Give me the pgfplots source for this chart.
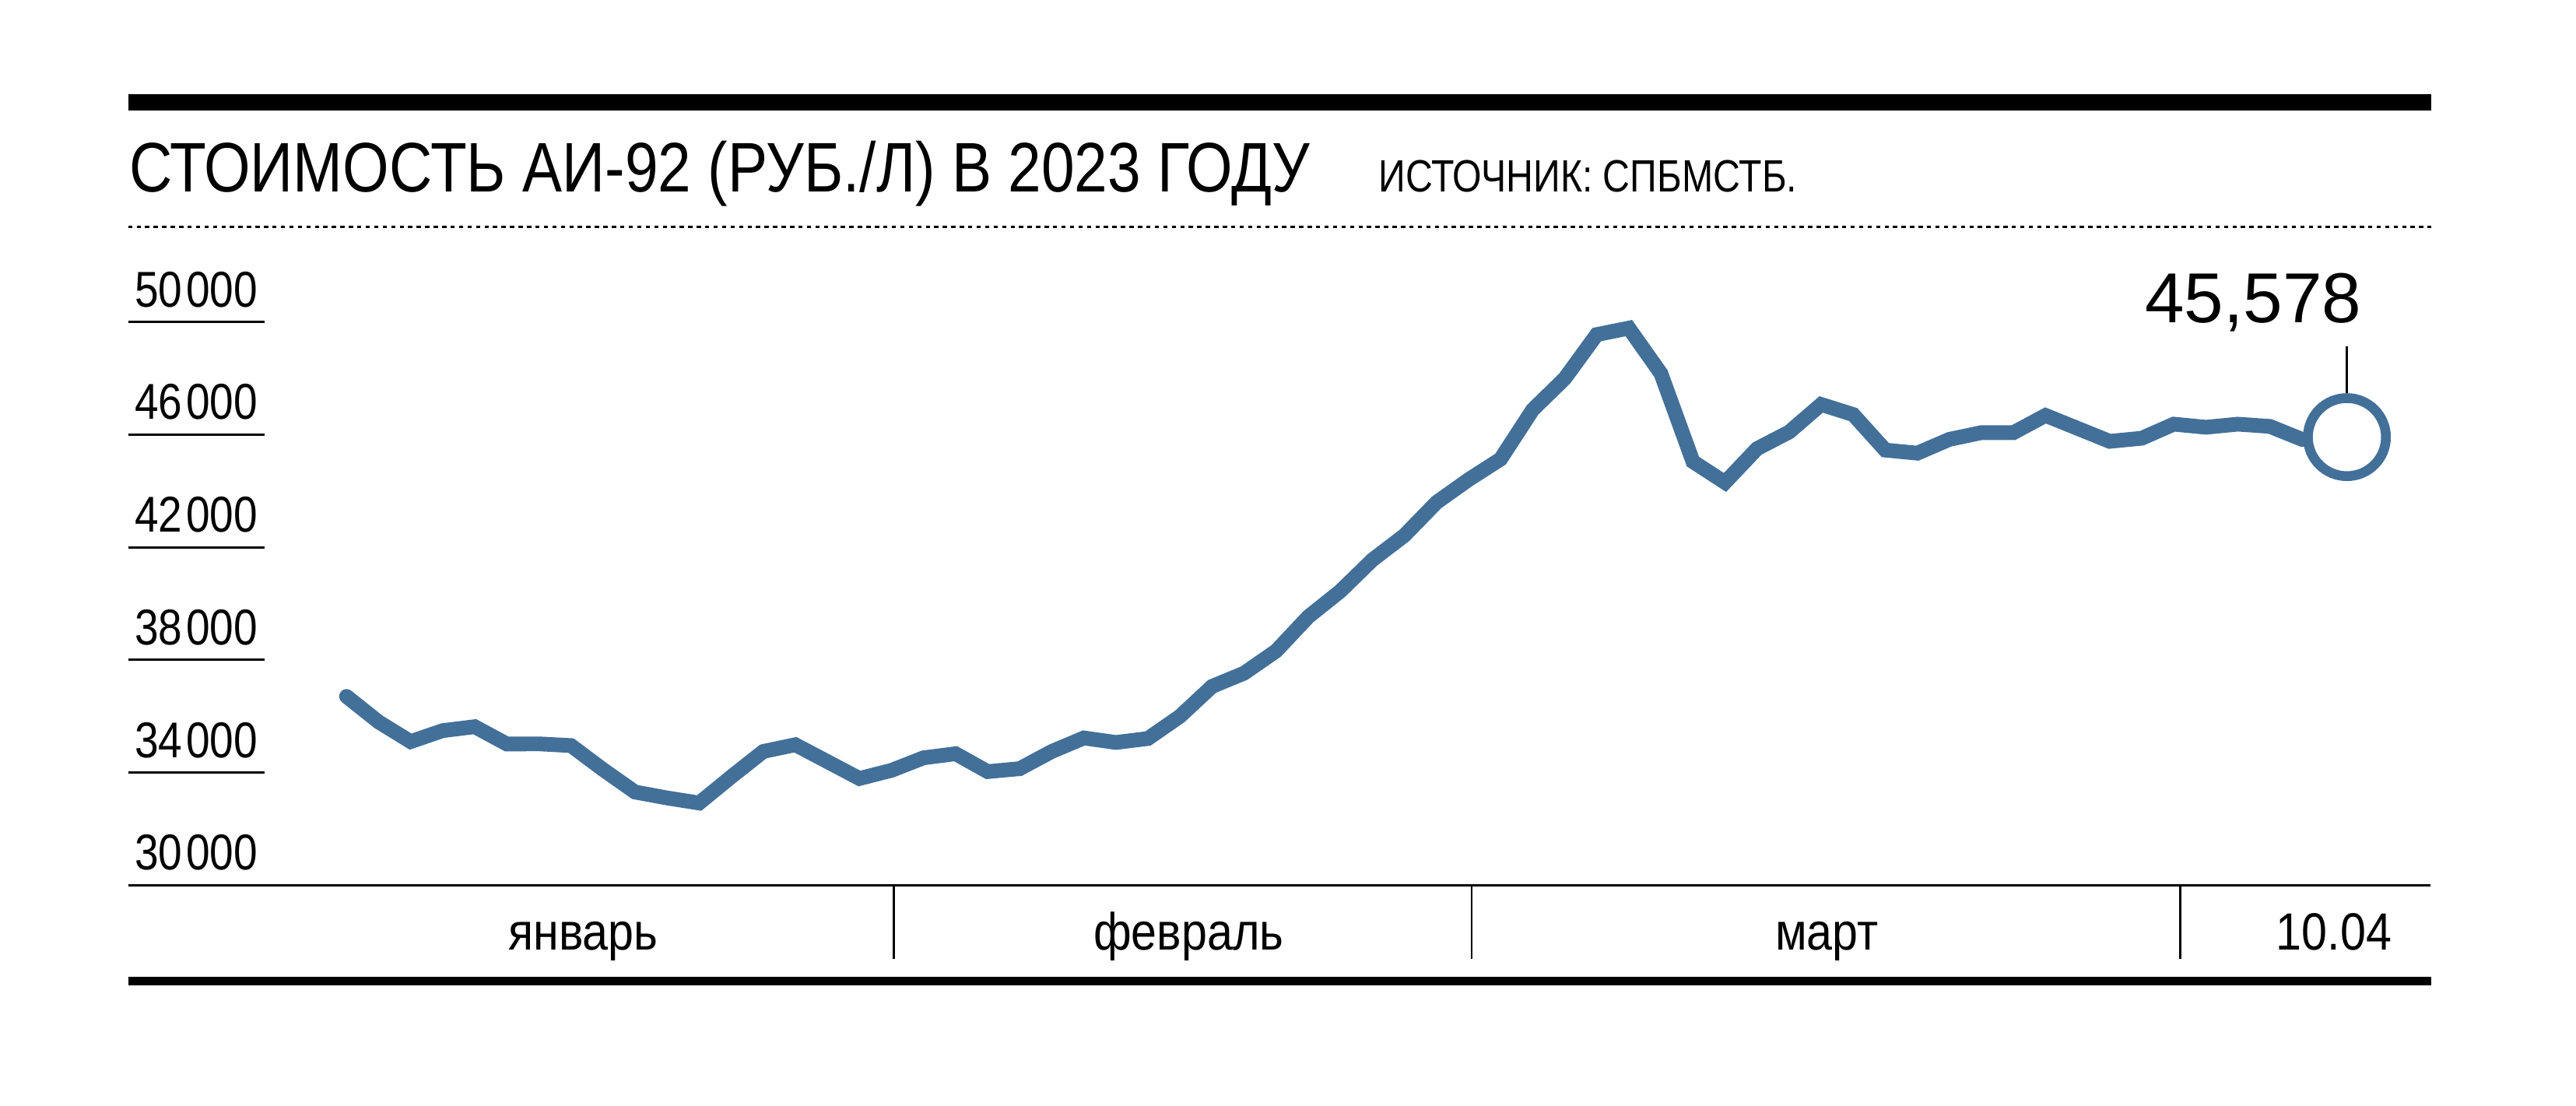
\documentclass[border=0pt]{standalone}
\usepackage{pgfplots}
\pgfplotsset{compat=1.18}
\usepackage{fontspec}
\setmainfont{Liberation Sans}
\newfontfamily\condfont[FakeStretch=0.85]{Liberation Sans}
\newfontfamily\srcfont[FakeStretch=0.83]{Liberation Sans}
\newfontfamily\monthfont[FakeStretch=0.88]{Liberation Sans}
\newfontfamily\ticknum[FakeStretch=0.85]{Liberation Sans}
\definecolor{lineblue}{RGB}{67,112,153}
\tikzset{ylab/.style={anchor=base west, inner sep=0pt, xshift=0.034cm, yshift=0.094cm,
    font=\ticknum\fontsize{8.9}{10}\selectfont}}
\begin{document}
\begin{tikzpicture}
\begin{axis}[
  at={(0.7959cm,-5.5000cm)}, anchor=south west,
  scale only axis, width=14.306cm, height=3.500cm,
  xmin=-6.8135, xmax=65.01, ymin=30000, ymax=50000,
  clip=false,
  axis line style={draw=none},
  xtick=\empty,
  ytick={30000,34000,38000,42000,46000,50000},
  yticklabels={},
  scaled y ticks=false,
  ytick pos=left,
  tick align=inside,
  major tick length=0.847cm,
  y tick style={black, line width=0.4pt},
]
\draw[black, line width=0.5pt] (rel axis cs:0,0) -- (rel axis cs:1,0);
\node[ylab] at (axis cs:-6.8135,30000) {30\kern0.08em000};
\node[ylab] at (axis cs:-6.8135,34000) {34\kern0.08em000};
\node[ylab] at (axis cs:-6.8135,38000) {38\kern0.08em000};
\node[ylab] at (axis cs:-6.8135,42000) {42\kern0.08em000};
\node[ylab] at (axis cs:-6.8135,46000) {46\kern0.08em000};
\node[ylab] at (axis cs:-6.8135,50000) {50\kern0.08em000};
\addplot[color=lineblue, line width=2.6pt, line cap=round, line join=miter] coordinates {
(0,36706)(1,35800)(2,35100)(3,35490)(4,35630)(5,35015)(6,35020)(7,34960)
(8,34110)(9,33310)(10,33100)(11,32920)(12,33850)(13,34750)(14,34990)(15,34390)
(16,33790)(17,34080)(18,34525)(19,34670)(20,34035)(21,34140)(22,34750)(23,35230)
(24,35070)(25,35210)(26,36000)(27,37060)(28,37530)(29,38320)(30,39530)(31,40440)
(32,41550)(33,42420)(34,43590)(35,44400)(36,45130)(37,46880)(38,47990)(39,49550)
(40,49780)(41,48170)(42,45040)(43,44300)(44,45500)(45,46090)(46,47070)(47,46710)
(48,45450)(49,45340)(50,45830)(51,46070)(52,46070)(53,46680)(54,46220)(55,45760)
(56,45870)(57,46370)(58,46260)(59,46370)(60,46290)(61,45830)(62.4,45910)
};
\addplot[only marks, mark=*, mark size=6.9pt,
  mark options={fill=white, draw=lineblue, line width=1.73pt}] coordinates {(62.4,45910)};
\draw[black, line width=0.4pt] (axis cs:62.4,46164) -- (axis cs:62.4,49137);
\node[anchor=base east, inner sep=0pt, font=\fontsize{12.5}{14}\selectfont]
  at (axis cs:62.89,49966) {45,578};
\end{axis}
\begin{scope}[x=0.010204cm, y=-0.010204cm]
\path[use as bounding box] (0,0) rectangle (1568,673);
\fill[black] (78,57.2) rectangle (1480,67.1);
\fill[black] (78,594.5) rectangle (1480,599.7);
\draw[black, line width=0.45pt, dash pattern=on 0.75pt off 0.75pt] (78,138) -- (1480,138);
\node[anchor=base west, inner sep=0pt, font=\condfont\fontsize{12.4}{14}\selectfont]
  at (78,116.9) {СТОИМОСТЬ АИ-92 (РУБ./Л) В 2023 ГОДУ};
\node[anchor=base west, inner sep=0pt, font=\srcfont\fontsize{8.0}{10}\selectfont]
  at (838.5,116.9) {ИСТОЧНИК: СПБМСТБ.};
\foreach \sx in {544.2,895.8,1327.1}{
  \draw[black, line width=0.4pt] (\sx,539.7) -- (\sx,583.5);
}
\node[anchor=base, inner sep=0pt, font=\monthfont\fontsize{9.26}{11}\selectfont] at (355,578) {январь};
\node[anchor=base, inner sep=0pt, font=\monthfont\fontsize{9.26}{11}\selectfont] at (723.5,578) {февраль};
\node[anchor=base, inner sep=0pt, font=\monthfont\fontsize{9.26}{11}\selectfont] at (1112,578) {март};
\node[anchor=base, inner sep=0pt, font=\monthfont\fontsize{9.26}{11}\selectfont] at (1420.7,578) {10.04};
\end{scope}
\end{tikzpicture}
\end{document}
